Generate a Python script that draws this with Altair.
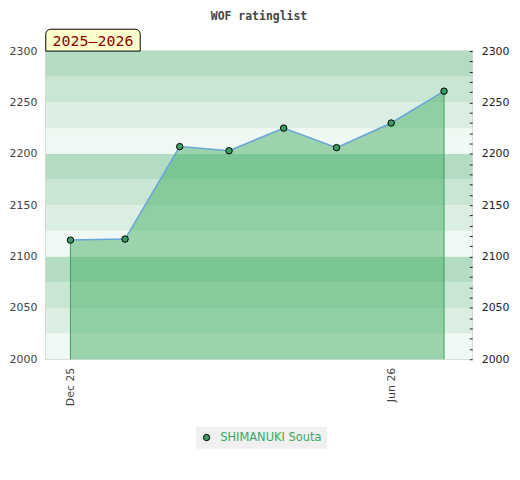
import altair as alt
import pandas as pd

months = ["2025-12-01", "2026-01-01", "2026-02-01", "2026-03-01",
          "2026-04-01", "2026-05-01", "2026-06-01", "2026-07-01"]
ratings = [2116, 2117, 2207, 2203, 2225, 2206, 2230, 2261]
player = "SHIMANUKI Souta"
season_label = "2025–2026"

band_starts = list(range(2000, 2300, 25))
band_shades = ["#eff8f2", "#dbeee2", "#c9e6d3", "#b3dcc3"]

df = pd.DataFrame({"month": months, "rating": ratings, "player": [player] * len(months)})
bands = pd.DataFrame({
    "y0": band_starts,
    "y1": [b + 25 for b in band_starts],
    "shade": [band_shades[(i % 4)] for i in range(len(band_starts))],
})
ends = df.iloc[[0, -1]].copy()
lab = pd.DataFrame({"label": [season_label]})

W, H = 429, 310
xdom = [alt.DateTime(year=2025, month=11, date=17, utc=True),
        alt.DateTime(year=2026, month=7, date=17, utc=True)]
xscale = alt.Scale(type="utc", domain=xdom)
yscale = alt.Scale(domain=[2000, 2300], zero=False, nice=False)

band_layer = alt.Chart(bands).mark_rect().encode(
    x=alt.value(0), x2=alt.value(W),
    y=alt.Y("y0:Q", scale=yscale, title=None,
            axis=alt.Axis(values=list(range(2000, 2301, 50)), format="d", ticks=False,
                          domain=False, grid=False, labelPadding=9,
                          labelFont="DejaVu Sans", labelFontSize=11, labelColor="#444")),
    y2="y1:Q",
    fill=alt.Fill("shade:N", scale=None),
)

base = alt.Chart(df)
xenc = alt.X("month:T", scale=xscale, title=None,
             axis=alt.Axis(values=[alt.DateTime(year=2025, month=12, date=1, utc=True),
                                   alt.DateTime(year=2026, month=6, date=1, utc=True)],
                           labelExpr="utcFormat(datum.value, '%b %y')",
                           labelAngle=270, ticks=False, domain=False, grid=False,
                           labelPadding=8, labelFont="DejaVu Sans", labelFontSize=11,
                           labelColor="#444"))

right_axis = alt.Axis(orient="right", values=list(range(2000, 2301, 10)),
                      labelExpr="datum.value % 50 == 0 ? format(datum.value, 'd') : ''",
                      tickSize=3, offset=-3, labelPadding=9, domain=False, grid=False,
                      tickColor="#222", labelFont="DejaVu Sans", labelFontSize=11,
                      labelColor="#222", zindex=1)
yenc = alt.Y("rating:Q", scale=yscale, title=None, axis=right_axis)

area = base.mark_area(color="#3fab61", opacity=0.48).encode(
    x=xenc, y=yenc, y2=alt.datum(2000),
)
edges = alt.Chart(ends).mark_rule(color="#3aa35f", strokeWidth=1).encode(
    x=alt.X("month:T", scale=xscale, title=None),
    y=yenc,
    y2=alt.datum(2000),
)
line = base.mark_line(color="#66a6d9", strokeWidth=1.5).encode(
    x=alt.X("month:T", scale=xscale, title=None),
    y=yenc,
)
points = base.mark_point(filled=True, stroke="black", strokeWidth=1, size=42, opacity=1).encode(
    x=alt.X("month:T", scale=xscale, title=None),
    y=yenc,
    fill=alt.Fill("player:N", scale=alt.Scale(range=["#3a9e5e"]),
                  legend=alt.Legend(title=None, orient="none", legendX=151, legendY=378,
                                    fillColor="#f0f0f0", padding=5, symbolType="circle",
                                    symbolStrokeColor="black", symbolStrokeWidth=1,
                                    symbolSize=40, labelColor="#3aa85f",
                                    labelFont="DejaVu Sans", labelFontSize=11.5,
                                    labelOffset=8)),
)

box = alt.Chart(lab).mark_rect(fill="#ffffcc", stroke="black", strokeWidth=1,
                               cornerRadiusTopLeft=5, cornerRadiusTopRight=5).encode(
    x=alt.value(0), x2=alt.value(95), y=alt.value(-22), y2=alt.value(0))
boxtext = alt.Chart(lab).mark_text(font="DejaVu Sans Mono", fontSize=15, color="#8b0000",
                                   align="center", baseline="middle").encode(
    x=alt.value(47.5), y=alt.value(-10), text="label:N")

inner = alt.layer(area, edges, line, points, box, boxtext)

chart = alt.layer(band_layer, inner).resolve_axis(y="independent").properties(
    width=W, height=H,
    title=alt.TitleParams("WOF ratinglist", font="DejaVu Sans Mono", fontSize=11.5,
                          fontWeight="bold", color="#444", anchor="middle", offset=6),
    autosize=alt.AutoSizeParams(type="none"),
    padding={"left": 38, "top": 42, "right": 40, "bottom": 100},
).configure_view(stroke="#d6d6d6", strokeWidth=1.5)

chart.save("out.html", embed_options={"renderer": "svg", "actions": False})
